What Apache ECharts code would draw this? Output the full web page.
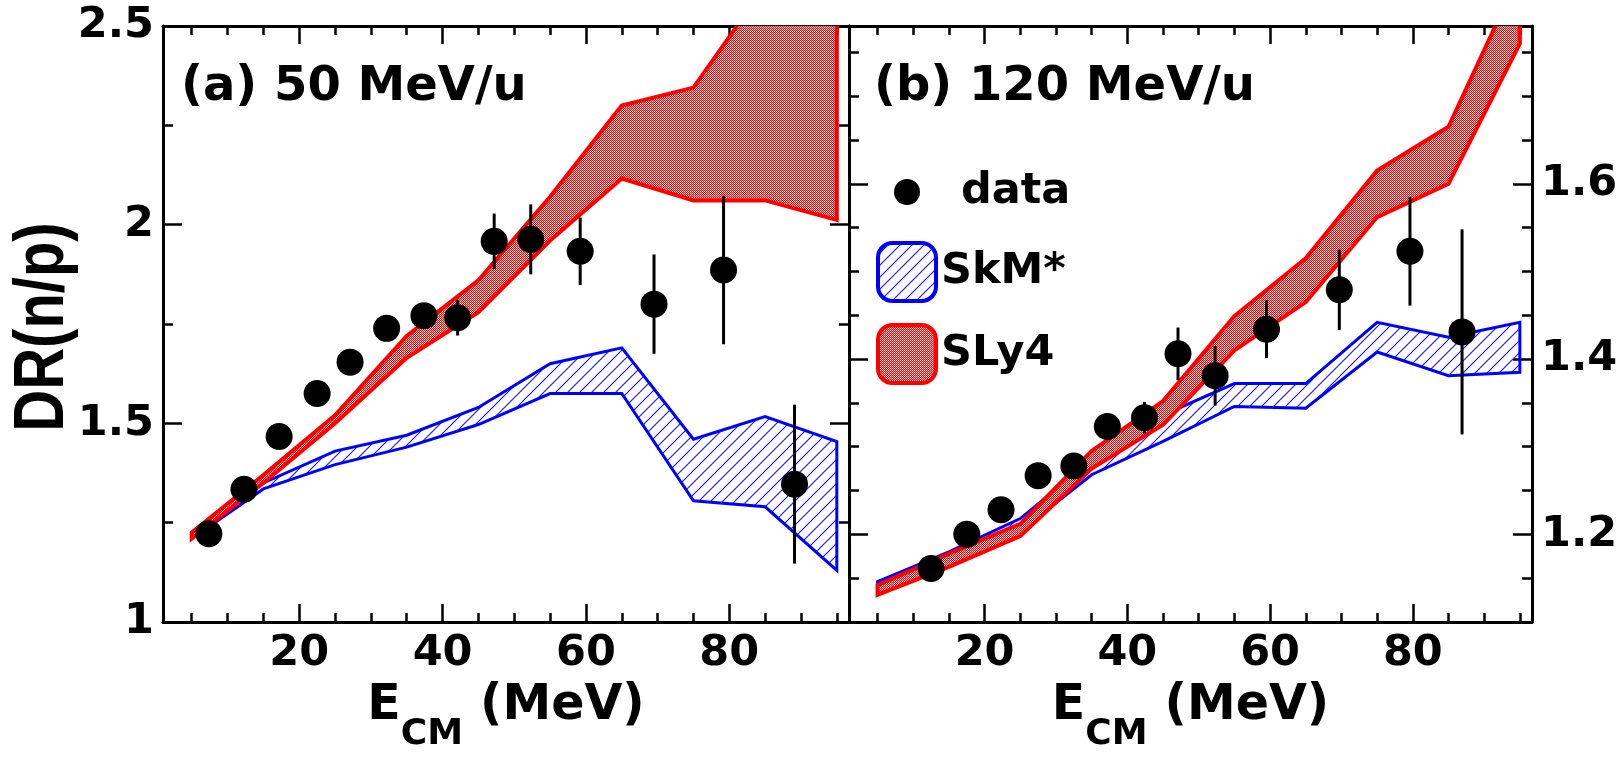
<!DOCTYPE html>
<html><head><meta charset="utf-8">
<script src="https://cdn.jsdelivr.net/npm/echarts@6/dist/echarts.min.js"></script>
<style>html,body{margin:0;padding:0;background:#fff}#c{width:1621px;height:758px}</style>
</head><body><div id="c"></div>
<script>
// ---------------- data ----------------
const bandX = [5, 15, 25, 35, 45, 55, 65, 75, 85, 95];
// panel (a) 50 MeV/u
const sly4A_hi = [1.225, 1.37, 1.52, 1.72, 1.86, 2.07, 2.30, 2.345, 2.60, 2.80];
const sly4A_lo = [1.21, 1.35, 1.50, 1.665, 1.78, 1.96, 2.116, 2.061, 2.061, 2.012];
const skmA_hi = [1.217, 1.35, 1.43, 1.47, 1.54, 1.65, 1.69, 1.46, 1.517, 1.454];
const skmA_lo = [1.21, 1.335, 1.396, 1.44, 1.497, 1.575, 1.575, 1.305, 1.29, 1.13];
const dataA_x = [7.4, 12.3, 17.2, 22.5, 27.1, 32.2, 37.4, 42.1, 47.2, 52.3, 59.2, 69.5, 79.2, 89.1];
const dataA_y = [1.222, 1.334, 1.467, 1.575, 1.654, 1.739, 1.771, 1.766, 1.958, 1.963, 1.933, 1.80, 1.886, 1.347];
const dataA_e = [0.02, 0.02, 0.02, 0.02, 0.02, 0.03, 0.03, 0.045, 0.07, 0.088, 0.085, 0.125, 0.187, 0.20];
// panel (b) 120 MeV/u
const sly4B_hi = [1.142, 1.178, 1.212, 1.295, 1.352, 1.449, 1.515, 1.615, 1.665, 1.84];
const sly4B_lo = [1.131, 1.163, 1.198, 1.275, 1.325, 1.41, 1.465, 1.562, 1.60, 1.76];
const skmB_hi = [1.146, 1.18, 1.218, 1.285, 1.336, 1.372, 1.372, 1.442, 1.425, 1.442];
const skmB_lo = [1.138, 1.168, 1.204, 1.268, 1.306, 1.346, 1.344, 1.408, 1.381, 1.385];
const dataB_x = [12.5, 17.5, 22.3, 27.5, 32.5, 37.2, 42.4, 47.1, 52.3, 59.5, 69.7, 79.6, 86.9];
const dataB_y = [1.161, 1.200, 1.228, 1.267, 1.278, 1.323, 1.333, 1.406, 1.381, 1.434, 1.479, 1.523, 1.431];
const dataB_e = [0.01, 0.012, 0.012, 0.012, 0.012, 0.015, 0.018, 0.03, 0.034, 0.033, 0.046, 0.062, 0.117];
// axes / ticks
const xMajor = [20, 40, 60, 80];
const xMinor = [5, 10, 15, 25, 30, 35, 45, 50, 55, 65, 70, 75, 85, 90, 95];
const yMajorA = [1, 1.5, 2, 2.5];
const yMinorA = [1.25, 1.75, 2.25];
const yMajorB = [1.2, 1.4, 1.6];
const yMinorB = [1.15, 1.25, 1.3, 1.35, 1.45, 1.5, 1.55, 1.65, 1.7, 1.75];
const titles = ['(a) 50 MeV/u', '(b) 120 MeV/u'];
const yTitle = 'DR(n/p)';

// ---------------- patterns ----------------
function dotsPattern() {
  const c = document.createElement('canvas'); c.width = 2; c.height = 2;
  const g = c.getContext('2d');
  g.fillStyle = '#ffffff'; g.fillRect(0, 0, 2, 2);
  g.fillStyle = '#ff0000'; g.fillRect(0, 0, 1, 1); g.fillRect(1, 1, 1, 1);
  g.fillStyle = '#ff9a9a'; g.fillRect(1, 0, 1, 1);
  return { image: c, repeat: 'repeat' };
}
function hatchPattern() {
  const s = 12;
  const c = document.createElement('canvas'); c.width = s; c.height = s;
  const g = c.getContext('2d');
  g.strokeStyle = '#1a1aff'; g.lineWidth = 1.2;
  g.beginPath();
  g.moveTo(-2, s + 2); g.lineTo(s + 2, -2);
  g.moveTo(-2, 2); g.lineTo(2, -2);
  g.moveTo(s - 2, s + 2); g.lineTo(s + 2, s - 2);
  g.stroke();
  return { image: c, repeat: 'repeat' };
}
const DOTS = dotsPattern();
const HATCH = hatchPattern();

const FF = "'DejaVu Sans', sans-serif";
const XMIN = 1, XMAX = 96.7;

function xAxes(g) {
  const base = { gridIndex: g, type: 'value', min: XMIN, max: XMAX, splitLine: { show: false } };
  return [
    Object.assign({}, base, {
      position: 'bottom',
      axisLine: { show: true, onZero: false, lineStyle: { color: '#000', width: 3 } },
      axisTick: { show: true, inside: true, length: 18, customValues: xMajor, lineStyle: { color: '#000', width: 2.5 } },
      axisLabel: { show: true, customValues: xMajor, fontSize: 43, fontWeight: 'bold', fontFamily: FF, color: '#000', margin: 10 },
      name: '{m|E}{s|CM}{m| (MeV)}', nameLocation: 'middle', nameGap: 60,
      nameTextStyle: { rich: {
        m: { fontSize: 49, fontWeight: 'bold', fontFamily: FF, color: '#000', lineHeight: 56, verticalAlign: 'top' },
        s: { fontSize: 36, fontWeight: 'bold', fontFamily: FF, color: '#000', lineHeight: 36, padding: [35, 0, 0, 0], verticalAlign: 'top' }
      } }
    }),
    Object.assign({}, base, {
      position: 'bottom', axisLine: { show: false },
      axisTick: { show: true, inside: true, length: 9, customValues: xMinor, lineStyle: { color: '#000', width: 2.5 } },
      axisLabel: { show: false }
    }),
    Object.assign({}, base, {
      position: 'top',
      axisLine: { show: true, onZero: false, lineStyle: { color: '#000', width: 3 } },
      axisTick: { show: true, inside: true, length: 18, customValues: xMajor, lineStyle: { color: '#000', width: 2.5 } },
      axisLabel: { show: false }
    }),
    Object.assign({}, base, {
      position: 'top', axisLine: { show: false },
      axisTick: { show: true, inside: true, length: 9, customValues: xMinor, lineStyle: { color: '#000', width: 2.5 } },
      axisLabel: { show: false }
    })
  ];
}
function yAxes(g, min, max, major, minor, labelSide) {
  const base = { gridIndex: g, type: 'value', min: min, max: max, splitLine: { show: false } };
  const out = [];
  ['left', 'right'].forEach(function (side) {
    const lab = side === labelSide;
    out.push(Object.assign({}, base, {
      position: side,
      axisLine: { show: true, onZero: false, lineStyle: { color: '#000', width: 3 } },
      axisTick: { show: true, inside: true, length: 19, customValues: major, lineStyle: { color: '#000', width: 2.5 } },
      axisLabel: { show: lab, customValues: major, fontSize: 43, fontWeight: 'bold', fontFamily: FF, color: '#000', margin: 9 }
    }));
    out.push(Object.assign({}, base, {
      position: side, axisLine: { show: false },
      axisTick: { show: true, inside: true, length: 10, customValues: minor, lineStyle: { color: '#000', width: 2.5 } },
      axisLabel: { show: false }
    }));
  });
  return out;
}

function bandSeries(name, xi, yi, lo, hi, stroke, fill, lw, z) {
  return {
    type: 'custom', name: name, xAxisIndex: xi, yAxisIndex: yi, clip: true, z: z,
    itemStyle: { color: fill, borderColor: stroke },
    data: bandX.map(function (x, i) { return [x, lo[i], hi[i]]; }),
    encode: { x: 0, y: [1, 2] },
    renderItem: function (params, api) {
      if (params.dataIndex !== 0) return null;
      const pts = [];
      for (let i = 0; i < bandX.length; i++) pts.push(api.coord([bandX[i], hi[i]]));
      for (let i = bandX.length - 1; i >= 0; i--) pts.push(api.coord([bandX[i], lo[i]]));
      return { type: 'polygon', shape: { points: pts }, style: { fill: fill, stroke: stroke, lineWidth: lw, lineJoin: 'miter' } };
    }
  };
}
function errSeries(xi, yi, xs, ys, es) {
  return {
    type: 'custom', name: 'err' + xi, xAxisIndex: xi, yAxisIndex: yi, z: 5,
    data: xs.map(function (x, i) { return [x, ys[i], es[i]]; }),
    renderItem: function (params, api) {
      const x = api.value(0), y = api.value(1), e = api.value(2);
      const p1 = api.coord([x, y - e]), p2 = api.coord([x, y + e]);
      return { type: 'line', shape: { x1: p1[0], y1: p1[1], x2: p2[0], y2: p2[1] }, style: { stroke: '#000', lineWidth: 3 } };
    }
  };
}
function dataSeries(xi, yi, xs, ys) {
  return {
    type: 'scatter', name: 'data', xAxisIndex: xi, yAxisIndex: yi, z: 6,
    symbol: 'circle', symbolSize: 27, itemStyle: { color: '#000', opacity: 1 },
    data: xs.map(function (x, i) { return [x, ys[i]]; })
  };
}

const option = {
  animation: false,
  backgroundColor: '#fff',
  title: [
    { text: titles[0], left: 181, top: 64, padding: 0, textStyle: { fontSize: 48, fontWeight: 'bold', fontFamily: FF, color: '#000' } },
    { text: titles[1], left: 874, top: 64, padding: 0, textStyle: { fontSize: 48, fontWeight: 'bold', fontFamily: FF, color: '#000' } }
  ],
  graphic: [{
    type: 'text', x: 44, y: 327, rotation: Math.PI / 2, scaleY: 1.2, silent: true,
    style: {
      text: yTitle, fill: '#000', fontSize: 58, fontWeight: 'bold', fontFamily: "'Liberation Sans', Arial, sans-serif",
      align: 'center', verticalAlign: 'middle', textAlign: 'center', textVerticalAlign: 'middle'
    }
  }],
  legend: {
    orient: 'vertical', left: 876, top: 163, itemWidth: 58, itemHeight: 58, itemGap: 20, padding: 0,
    selectedMode: false,
    textStyle: { fontSize: 43, fontWeight: 'bold', fontFamily: FF, color: '#000' },
    data: [
      { name: 'data', icon: 'path://M0,0M58,58M42,29A13,13,0,1,1,16,29A13,13,0,1,1,42,29Z', itemStyle: { color: '#000', borderWidth: 0 }, textStyle: { padding: [0, 0, 0, 20] } },
      { name: 'SkM*', icon: 'roundRect', itemStyle: { color: HATCH, borderColor: '#0000ff', borderWidth: 4 } },
      { name: 'SLy4', icon: 'roundRect', itemStyle: { color: DOTS, borderColor: '#ff0000', borderWidth: 4 } }
    ]
  },
  grid: [
    { left: 163, top: 26, width: 686, height: 601, show: false },
    { left: 849, top: 26, width: 683, height: 601, show: false }
  ],
  xAxis: xAxes(0).concat(xAxes(1)),
  yAxis: yAxes(0, 1, 2.5, yMajorA, yMinorA, 'left').concat(yAxes(1, 1.1, 1.78, yMajorB, yMinorB, 'right')),
  series: [
    bandSeries('SkM*', 0, 0, skmA_lo, skmA_hi, '#0000ff', HATCH, 3, 2),
    bandSeries('SLy4', 0, 0, sly4A_lo, sly4A_hi, '#ff0000', DOTS, 4, 3),
    errSeries(0, 0, dataA_x, dataA_y, dataA_e),
    dataSeries(0, 0, dataA_x, dataA_y),
    bandSeries('SkM*', 4, 6, skmB_lo, skmB_hi, '#0000ff', HATCH, 3, 2),
    bandSeries('SLy4', 4, 6, sly4B_lo, sly4B_hi, '#ff0000', DOTS, 4, 3),
    errSeries(4, 6, dataB_x, dataB_y, dataB_e),
    dataSeries(4, 6, dataB_x, dataB_y)
  ]
};
const chart = echarts.init(document.getElementById('c'), null, { renderer: 'canvas' });
chart.setOption(option);
</script>
</body></html>
